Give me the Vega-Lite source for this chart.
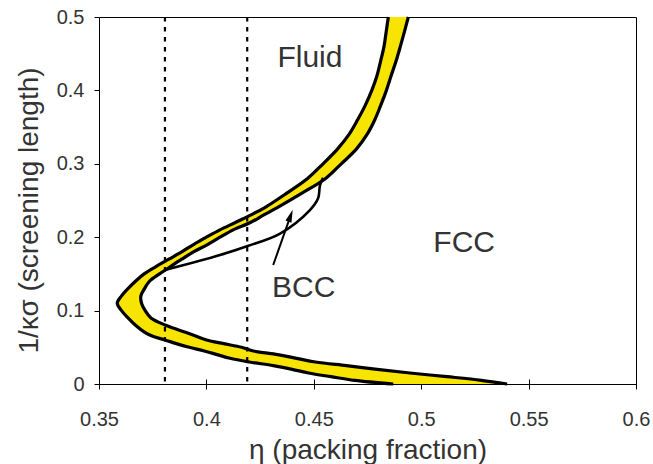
{
  "$schema": "https://vega.github.io/schema/vega-lite/v6.json",
  "width": 537,
  "height": 367,
  "autosize": {"type": "none"},
  "padding": {"left": 99, "top": 17, "right": 17, "bottom": 80},
  "background": "white",
  "config": {
    "view": {"stroke": "#000", "strokeWidth": 1},
    "font": "Liberation Sans",
    "axis": {
      "labelFont": "Liberation Sans",
      "labelFontSize": 20,
      "labelColor": "#333",
      "labelFlush": false,
      "titleFont": "Liberation Sans",
      "titleFontSize": 28,
      "titleFontWeight": "normal",
      "titleColor": "#333",
      "tickColor": "#000",
      "domainColor": "#000",
      "grid": false
    }
  },
  "datasets": {
    "band": [
      {"y": 0.0, "xa": 0.487, "xb": 0.54},
      {"y": 0.005, "xa": 0.469, "xb": 0.528},
      {"y": 0.01, "xa": 0.458, "xb": 0.512},
      {"y": 0.015, "xa": 0.4476, "xb": 0.4948},
      {"y": 0.02, "xa": 0.4399, "xb": 0.4795},
      {"y": 0.025, "xa": 0.4312, "xb": 0.4652},
      {"y": 0.03, "xa": 0.42, "xb": 0.4507},
      {"y": 0.035, "xa": 0.411, "xb": 0.442},
      {"y": 0.04, "xa": 0.405, "xb": 0.4332},
      {"y": 0.045, "xa": 0.399, "xb": 0.4219},
      {"y": 0.05, "xa": 0.392, "xb": 0.4164},
      {"y": 0.055, "xa": 0.386, "xb": 0.408},
      {"y": 0.06, "xa": 0.3807, "xb": 0.4001},
      {"y": 0.065, "xa": 0.375, "xb": 0.3953},
      {"y": 0.07, "xa": 0.3715, "xb": 0.3906},
      {"y": 0.08, "xa": 0.367, "xb": 0.3811},
      {"y": 0.09, "xa": 0.3635, "xb": 0.3742},
      {"y": 0.1, "xa": 0.3605, "xb": 0.3715},
      {"y": 0.11, "xa": 0.3585, "xb": 0.3698},
      {"y": 0.12, "xa": 0.3605, "xb": 0.3695},
      {"y": 0.13, "xa": 0.3635, "xb": 0.3712},
      {"y": 0.14, "xa": 0.367, "xb": 0.3735},
      {"y": 0.15, "xa": 0.371, "xb": 0.3782},
      {"y": 0.16, "xa": 0.3765, "xb": 0.3833},
      {"y": 0.17, "xa": 0.3825, "xb": 0.3885},
      {"y": 0.18, "xa": 0.3885, "xb": 0.394},
      {"y": 0.19, "xa": 0.394, "xb": 0.4005},
      {"y": 0.2, "xa": 0.4, "xb": 0.4063},
      {"y": 0.21, "xa": 0.4063, "xb": 0.4125},
      {"y": 0.22, "xa": 0.4135, "xb": 0.4205},
      {"y": 0.23, "xa": 0.4205, "xb": 0.4265},
      {"y": 0.24, "xa": 0.427, "xb": 0.4328},
      {"y": 0.26, "xa": 0.4374, "xb": 0.4445},
      {"y": 0.28, "xa": 0.4471, "xb": 0.4555},
      {"y": 0.3, "xa": 0.4543, "xb": 0.4628},
      {"y": 0.32, "xa": 0.461, "xb": 0.4698},
      {"y": 0.34, "xa": 0.4664, "xb": 0.4748},
      {"y": 0.36, "xa": 0.4704, "xb": 0.4784},
      {"y": 0.38, "xa": 0.474, "xb": 0.4812},
      {"y": 0.4, "xa": 0.477, "xb": 0.4838},
      {"y": 0.42, "xa": 0.4794, "xb": 0.486},
      {"y": 0.44, "xa": 0.4811, "xb": 0.4883},
      {"y": 0.46, "xa": 0.4827, "xb": 0.4903},
      {"y": 0.48, "xa": 0.4837, "xb": 0.4922},
      {"y": 0.5, "xa": 0.4847, "xb": 0.494}
    ],
    "bcc": [
      {"x": 0.3807, "y": 0.1553},
      {"x": 0.4063, "y": 0.1757},
      {"x": 0.4192, "y": 0.188},
      {"x": 0.4343, "y": 0.205},
      {"x": 0.4482, "y": 0.237},
      {"x": 0.452, "y": 0.253},
      {"x": 0.4529, "y": 0.271},
      {"x": 0.4543, "y": 0.281}
    ],
    "dashed": [{"x": 0.3807}, {"x": 0.419}],
    "arrow": [{"x": 0.4311, "y": 0.1621, "x2": 0.4392, "y2": 0.2293}],
    "head": [{"x": 0.4392, "y": 0.2293}],
    "labels": [
      {"x": 0.4482, "y": 0.4323, "text": "Fluid"},
      {"x": 0.52, "y": 0.1794, "text": "FCC"},
      {"x": 0.4453, "y": 0.1189, "text": "BCC"}
    ]
  },
  "layer": [
    {
      "data": {"name": "band"},
      "mark": {"type": "area", "orient": "horizontal", "fill": "#f7e400", "stroke": null, "interpolate": "catmull-rom"},
      "encoding": {
        "y": {"field": "y", "type": "quantitative", "scale": {"domain": [0, 0.5], "nice": false, "zero": false},
          "axis": {"title": "1/κσ (screening length)", "values": [0, 0.1, 0.2, 0.3, 0.4, 0.5], "format": ".1~f", "tickSize": 5, "labelPadding": 10, "domain": false, "titlePadding": 13, "titleY": 193}},
        "x": {"field": "xa", "type": "quantitative", "scale": {"domain": [0.35, 0.6], "nice": false, "zero": false},
          "axis": {"title": "η (packing fraction)", "values": [0.35, 0.4, 0.45, 0.5, 0.55, 0.6], "format": ".2~f", "domain": false, "offset": -5, "tickSize": 10, "labelPadding": 20, "titlePadding": 7}},
        "x2": {"field": "xb"}
      }
    },
    {
      "data": {"name": "band"},
      "mark": {"type": "line", "stroke": "#000", "strokeWidth": 3.2, "strokeCap": "butt", "interpolate": "catmull-rom"},
      "encoding": {
        "x": {"field": "xa", "type": "quantitative", "scale": {"domain": [0.35, 0.6], "nice": false, "zero": false}},
        "y": {"field": "y", "type": "quantitative", "scale": {"domain": [0, 0.5], "nice": false, "zero": false}},
        "order": {"field": "y", "type": "quantitative"}
      }
    },
    {
      "data": {"name": "band"},
      "mark": {"type": "line", "stroke": "#000", "strokeWidth": 3.2, "strokeCap": "butt", "interpolate": "catmull-rom"},
      "encoding": {
        "x": {"field": "xb", "type": "quantitative", "scale": {"domain": [0.35, 0.6], "nice": false, "zero": false}},
        "y": {"field": "y", "type": "quantitative", "scale": {"domain": [0, 0.5], "nice": false, "zero": false}},
        "order": {"field": "y", "type": "quantitative"}
      }
    },
    {
      "data": {"name": "bcc"},
      "mark": {"type": "line", "stroke": "#000", "strokeWidth": 2.6, "interpolate": "catmull-rom"},
      "encoding": {
        "x": {"field": "x", "type": "quantitative", "scale": {"domain": [0.35, 0.6], "nice": false, "zero": false}},
        "y": {"field": "y", "type": "quantitative", "scale": {"domain": [0, 0.5], "nice": false, "zero": false}},
        "order": {"field": "y", "type": "quantitative"}
      }
    },
    {
      "data": {"name": "dashed"},
      "mark": {"type": "rule", "stroke": "#000", "strokeWidth": 2.2, "strokeDash": [4.5, 5.5]},
      "encoding": {
        "x": {"field": "x", "type": "quantitative", "scale": {"domain": [0.35, 0.6], "nice": false, "zero": false}}
      }
    },
    {
      "data": {"name": "arrow"},
      "mark": {"type": "rule", "stroke": "#000", "strokeWidth": 2},
      "encoding": {
        "x": {"field": "x", "type": "quantitative", "scale": {"domain": [0.35, 0.6], "nice": false, "zero": false}},
        "y": {"field": "y", "type": "quantitative", "scale": {"domain": [0, 0.5], "nice": false, "zero": false}},
        "x2": {"field": "x2"},
        "y2": {"field": "y2"}
      }
    },
    {
      "data": {"name": "head"},
      "mark": {"type": "point", "shape": "M0,-1L0.5,1L-0.5,1Z", "filled": true, "fill": "#000", "stroke": null, "size": 160, "angle": 19.4, "opacity": 1},
      "encoding": {
        "x": {"field": "x", "type": "quantitative", "scale": {"domain": [0.35, 0.6], "nice": false, "zero": false}},
        "y": {"field": "y", "type": "quantitative", "scale": {"domain": [0, 0.5], "nice": false, "zero": false}}
      }
    },
    {
      "data": {"name": "labels"},
      "mark": {"type": "text", "font": "Liberation Sans", "fontSize": 30, "fill": "#333", "align": "center", "baseline": "alphabetic"},
      "encoding": {
        "x": {"field": "x", "type": "quantitative", "scale": {"domain": [0.35, 0.6], "nice": false, "zero": false}},
        "y": {"field": "y", "type": "quantitative", "scale": {"domain": [0, 0.5], "nice": false, "zero": false}},
        "text": {"field": "text"}
      }
    }
  ]
}
